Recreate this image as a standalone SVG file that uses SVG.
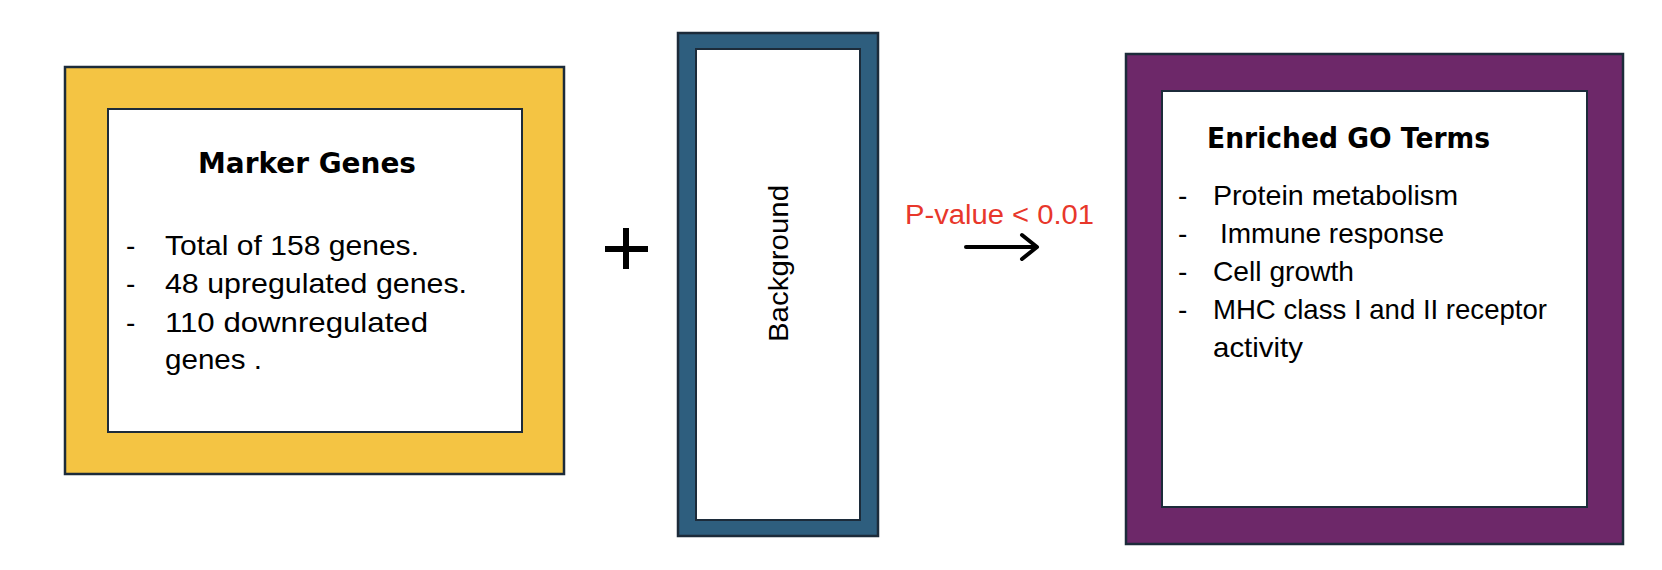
<svg xmlns="http://www.w3.org/2000/svg" width="1662" height="570" viewBox="0 0 1662 570">
<style>
.frame{stroke:#1c2b3a;stroke-width:2.5}
.inner{fill:#ffffff;stroke:#1c2b3a;stroke-width:2}
.title{font-family:"DejaVu Sans","Liberation Sans",sans-serif;font-weight:bold;font-size:28px;fill:#000}
.item{font-family:"Liberation Sans",Arial,sans-serif;font-size:28px;fill:#000}
.lbl{font-family:"Liberation Sans",Arial,sans-serif;font-size:27px;fill:#e8372b}
</style>
<rect width="1662" height="570" fill="#ffffff"/>
<g id="marker-genes">
<rect class="frame" x="65" y="67" width="499" height="407" fill="#f4c443"/>
<rect class="inner" x="108" y="109" width="414" height="323"/>
<text class="title" x="198" y="173" textLength="218" lengthAdjust="spacingAndGlyphs">Marker Genes</text>
<text class="item" x="126" y="255">-</text>
<text class="item" x="165" y="255" textLength="254" lengthAdjust="spacingAndGlyphs">Total of 158 genes.</text>
<text class="item" x="126" y="293">-</text>
<text class="item" x="165" y="293" textLength="302" lengthAdjust="spacingAndGlyphs">48 upregulated genes.</text>
<text class="item" x="126" y="332">-</text>
<text class="item" x="165" y="332" textLength="263" lengthAdjust="spacingAndGlyphs">110 downregulated</text>
<text class="item" x="165" y="369" textLength="97" lengthAdjust="spacingAndGlyphs">genes .</text>
</g>
<g id="plus">
<rect x="605" y="246" width="43" height="6" fill="#000"/>
<rect x="623" y="228" width="6" height="41" fill="#000"/>
</g>
<g id="background">
<rect class="frame" x="678" y="33" width="200" height="503" fill="#2e5e7e"/>
<rect class="inner" x="696" y="49" width="164" height="471"/>
<text class="item" transform="translate(788,342) rotate(-90)" x="0" y="0" font-size="30" textLength="157" lengthAdjust="spacingAndGlyphs">Background</text>
</g>
<g id="connectors">
<text class="lbl" x="905" y="224" textLength="189" lengthAdjust="spacingAndGlyphs">P-value &lt; 0.01</text>
<line x1="966" y1="247" x2="1036" y2="247" stroke="#000" stroke-width="4" stroke-linecap="round"/>
<polyline points="1022,235 1037,247 1022,259" fill="none" stroke="#000" stroke-width="4" stroke-linecap="round" stroke-linejoin="round"/>
</g>
<g id="enriched-go">
<rect class="frame" x="1126" y="54" width="497" height="490" fill="#6d2869"/>
<rect class="inner" x="1162" y="91" width="425" height="416"/>
<text class="title" x="1207" y="148" textLength="283" lengthAdjust="spacingAndGlyphs">Enriched GO Terms</text>
<text class="item" x="1178" y="205">-</text>
<text class="item" x="1213" y="205" textLength="245" lengthAdjust="spacingAndGlyphs">Protein metabolism</text>
<text class="item" x="1178" y="243">-</text>
<text class="item" x="1220" y="243" textLength="224" lengthAdjust="spacingAndGlyphs">Immune response</text>
<text class="item" x="1178" y="281">-</text>
<text class="item" x="1213" y="281" textLength="141" lengthAdjust="spacingAndGlyphs">Cell growth</text>
<text class="item" x="1178" y="319">-</text>
<text class="item" x="1213" y="319" textLength="334" lengthAdjust="spacingAndGlyphs">MHC class I and II receptor</text>
<text class="item" x="1213" y="357" textLength="90" lengthAdjust="spacingAndGlyphs">activity</text>
</g>
</svg>
